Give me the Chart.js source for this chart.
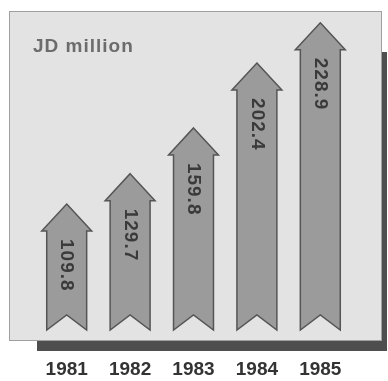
<!DOCTYPE html>
<html>
<head>
<meta charset="utf-8">
<script src="https://cdn.jsdelivr.net/npm/chart.js@4.4.0/dist/chart.umd.min.js"></script>
<style>
  html, body { margin: 0; padding: 0; background: #fff; }
  #wrap { width: 388px; height: 381px; }
</style>
</head>
<body>
<div id="wrap"><canvas id="jdChart" width="388" height="381"></canvas></div>
<script>
const years = ['1981', '1982', '1983', '1984', '1985'];
const values = [109.8, 129.7, 159.8, 202.4, 228.9];
const unitLabel = 'JD million';

// panel + shadow behind the arrows
const panelPlugin = {
    id: 'panel',
    beforeDraw: function (chart) {
        const ctx = chart.ctx;
        ctx.save();
        ctx.fillStyle = '#4e4e4e';
        ctx.fillRect(37, 340, 349, 11);
        ctx.fillRect(381, 52, 6, 299);
        ctx.fillStyle = '#e3e3e3';
        ctx.fillRect(9, 11, 373, 330);
        ctx.strokeStyle = '#a0a0a0';
        ctx.lineWidth = 1;
        ctx.strokeRect(9.5, 11.5, 372, 329);
        ctx.fillStyle = '#6c6c6c';
        ctx.font = 'bold 19px "Liberation Sans", Arial, sans-serif';
        ctx.letterSpacing = '1px';
        ctx.textBaseline = 'alphabetic';
        ctx.fillText(unitLabel, 33, 52);
        ctx.restore();
    }
};

// draws each bar as an up arrow with a notched tail
const arrowPlugin = {
    id: 'arrows',
    afterDatasetsDraw: function (chart) {
        const ctx = chart.ctx;
        const meta = chart.getDatasetMeta(0);
        const xScale = chart.scales.x;
        const yScale = chart.scales.y;
        const base = yScale.getPixelForValue(yScale.min);
        ctx.save();
        meta.data.forEach(function (bar, i) {
            const cx = bar.x;
            const top = bar.y;
            const sw = bar.width / 2;
            const hw = sw + 5;
            const hh = 27;
            const notch = 15;
            ctx.beginPath();
            ctx.moveTo(cx, top);
            ctx.lineTo(cx + hw, top + hh);
            ctx.lineTo(cx + sw, top + hh);
            ctx.lineTo(cx + sw, base);
            ctx.lineTo(cx, base - notch);
            ctx.lineTo(cx - sw, base);
            ctx.lineTo(cx - sw, top + hh);
            ctx.lineTo(cx - hw, top + hh);
            ctx.closePath();
            ctx.fillStyle = '#9b9b9b';
            ctx.fill();
            ctx.strokeStyle = '#555';
            ctx.lineWidth = 1.5;
            ctx.stroke();

            // value, rotated to read top to bottom
            ctx.save();
            ctx.translate(cx, top + hh + 8);
            ctx.rotate(Math.PI / 2);
            ctx.fillStyle = '#3a3a3a';
            ctx.font = 'bold 19px "Liberation Sans", Arial, sans-serif';
            ctx.letterSpacing = '1px';
            ctx.textAlign = 'left';
            ctx.textBaseline = 'middle';
            ctx.fillText(values[i].toFixed(1), 0, 0);
            ctx.restore();

            // year under the panel
            ctx.fillStyle = '#333';
            ctx.font = 'bold 19px "Liberation Sans", Arial, sans-serif';
            ctx.letterSpacing = '0px';
            ctx.textAlign = 'center';
            ctx.textBaseline = 'middle';
            ctx.fillText(years[i], xScale.getPixelForValue(i), 370);
        });
        ctx.restore();
    }
};

new Chart(document.getElementById('jdChart').getContext('2d'), {
    type: 'bar',
    data: {
        labels: years,
        datasets: [{
            data: values,
            backgroundColor: 'rgba(0,0,0,0)',
            borderWidth: 0,
            categoryPercentage: 1,
            barPercentage: 0.63
        }]
    },
    options: {
        responsive: false,
        animation: false,
        layout: { padding: { left: 35, right: 36, top: 15, bottom: 51 } },
        plugins: { legend: { display: false }, tooltip: { enabled: false } },
        scales: {
            x: { display: false },
            y: { display: false, min: 27, max: 234 }
        }
    },
    plugins: [panelPlugin, arrowPlugin]
});
</script>
</body>
</html>
